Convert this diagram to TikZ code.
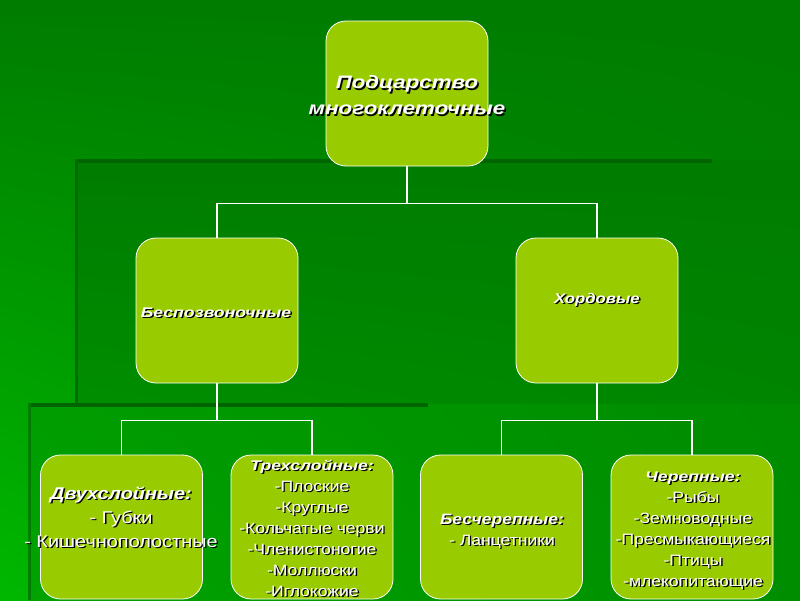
\documentclass[tikz,border=0pt]{standalone}
\usepackage{fontspec}
\setmainfont{Liberation Sans}
\usetikzlibrary{positioning,shadings}
\definecolor{boxfill}{HTML}{99CC00}
\definecolor{bgdark}{HTML}{007C00}
\definecolor{bgbright}{HTML}{00B800}
\definecolor{edgedark}{HTML}{006400}
\newcommand\sline[2][1.17]{\scalebox{#1}[1]{\rlap{\hspace{1.2pt}\raisebox{-1.2pt}{\color{black}#2}}#2}}
\newcommand\shead[1]{\sline[1.26]{\bfseries\itshape\fontsize{14}{21}\selectfont #1}}
\tikzset{
  box/.style={draw=white, line width=0.8pt, fill=boxfill, rounded corners=20pt,
    minimum width=162pt, minimum height=145pt, inner sep=0pt},
  conn/.style={draw=white, line width=1.6pt},
  txt/.style={text=white, align=center, inner sep=0pt},
  bigbi/.style={font=\fontsize{18}{26}\selectfont\bfseries\itshape},
  midbi/.style={font=\fontsize{14}{21}\selectfont\bfseries\itshape},
  lowtxt/.style={font=\fontsize{15}{21}\selectfont},
}
\begin{document}
\begin{tikzpicture}[x=1pt,y=-1pt]
\useasboundingbox (0,0) rectangle (800,600);
% background
\shade[upper left=bgdark, upper right=bgdark, lower left=bgbright, lower right=bgdark!80!bgbright] (0,0) rectangle (800,600);
\shade[upper left=bgdark, upper right=bgdark, lower left=bgdark!70!bgbright, lower right=bgdark!85!bgbright] (75,160) rectangle (800,404);
\shade[upper left=bgdark!45!bgbright, upper right=bgdark!75!bgbright, lower left=bgdark!35!bgbright, lower right=bgdark!70!bgbright] (28,404) rectangle (800,600);
\fill[edgedark] (75,159) rectangle (712,163);
\fill[edgedark!90!bgbright] (75,159) rectangle (78,404);
\fill[edgedark] (28,403) rectangle (428,407);
\fill[edgedark!70!bgbright] (28,403) rectangle (31,600);

% boxes
\node[box] (top) at (407,93.5) {};
\node[box] (bes) at (217,310.5) {};
\node[box] (hor) at (597,310.5) {};
\node[box, minimum height=144pt] (dvu) at (121.5,527) {};
\node[box, minimum height=144pt] (tre) at (312,527) {};
\node[box, minimum height=144pt] (bch) at (501.5,527) {};
\node[box, minimum height=144pt] (che) at (692,527) {};

% connectors
\draw[conn] (top.south) -- ++(0,37) -| (bes.north);
\draw[conn] (top.south) -- ++(0,37) -| (hor.north);
\draw[conn] (bes.south) -- ++(0,37) -| (dvu.north);
\draw[conn] (bes.south) -- ++(0,37) -| (tre.north);
\draw[conn] (hor.south) -- ++(0,37) -| (bch.north);
\draw[conn] (hor.south) -- ++(0,37) -| (che.north);

% texts
\node[txt, bigbi] (ttop) at (407,96) {\sline[1.24]{Подцарство}\\\sline[1.24]{многоклеточные}};
\node[txt, midbi] (tbes) at (216,313) {\sline[1.26]{Беспозвоночные}};
\node[txt, midbi] (thor) at (597,300) {\sline[1.2]{Хордовые}};
\node[txt, font=\fontsize{17}{24}\selectfont] (tdvu) at (121,518)
  {\sline{\bfseries\itshape Двухслойные:}\\\sline{- Губки}\\\sline{- Кишечнополостные}};
\node[txt, lowtxt] (ttre) at (312,529)
  {\shead{Трехслойные:}\\\sline{-Плоские}\\\sline{-Круглые}\\\sline{-Кольчатые черви}\\\sline{-Членистоногие}\\\sline{-Моллюски}\\\sline{-Иглокожие}};
\node[txt, lowtxt] (tbch) at (502,531.5)
  {\sline{\bfseries\itshape Бесчерепные:}\\\sline{- Ланцетники}};
\node[txt, lowtxt] (tche) at (693,531)
  {\shead{Черепные:}\\\sline{-Рыбы}\\\sline{-Земноводные}\\\sline{-Пресмыкающиеся}\\\sline{-Птицы}\\\sline{-млекопитающие}};
\end{tikzpicture}
\end{document}
